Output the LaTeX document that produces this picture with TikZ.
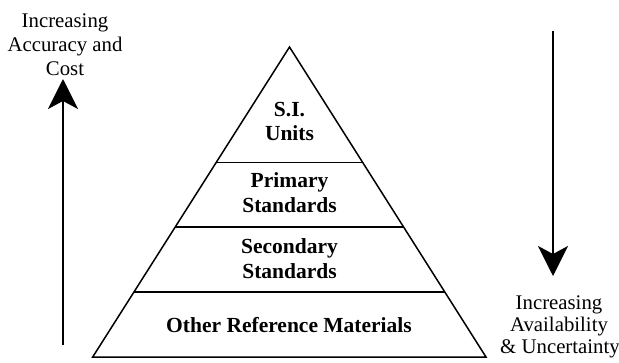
\documentclass[tikz,border=0pt]{standalone}
\usepackage{fontspec}
\setmainfont{Liberation Serif}
\usetikzlibrary{arrows.meta,calc}
\begin{document}
\begin{tikzpicture}[x=1pt,y=-1pt,
  txt/.style={anchor=base,inner sep=0pt,font=\fontsize{20.8}{24}\selectfont},
  btxt/.style={txt,font=\fontsize{21.5}{24}\selectfont\bfseries},
  pyr/.style={line width=1.5pt,line join=miter},
  divider/.style={line width=1.8pt},
  bigarrow/.style={line width=2pt,-{Stealth[length=30pt,width=30pt,inset=8pt]}}]
\useasboundingbox (0,0) rectangle (619,362);
% pyramid
\coordinate (apex) at (289.5,47);
\coordinate (bl) at (92.7,357);
\coordinate (br) at (486,357);
\draw[pyr] (apex) -- (bl) -- (br) -- cycle;
\coordinate (l1) at ($(apex)!0.3726!(bl)$);
\coordinate (r1) at ($(apex)!0.3726!(br)$);
\coordinate (l2) at ($(apex)!0.5806!(bl)$);
\coordinate (r2) at ($(apex)!0.5806!(br)$);
\coordinate (l3) at ($(apex)!0.790!(bl)$);
\coordinate (r3) at ($(apex)!0.790!(br)$);
\draw[divider] (l1) -- (r1);
\draw[divider] (l2) -- (r2);
\draw[divider] (l3) -- (r3);
% pyramid labels
\node[btxt] (si1) at (289.5,116.5) {S.I.};
\node[btxt] (si2) at (289.5,140.5) {Units};
\node[btxt] (pr1) at (289.5,187) {Primary};
\node[btxt] (pr2) at (289.5,212.5) {Standards};
\node[btxt] (se1) at (289.5,253.5) {Secondary};
\node[btxt] (se2) at (289.5,278.5) {Standards};
\node[btxt] (ot) at (289,332.5) {Other Reference Materials};
% left side
\node[txt] (la1) at (65,27) {Increasing};
\node[txt] (la2) at (65,51.5) {Accuracy and};
\node[txt] (la3) at (65,75.5) {Cost};
\coordinate (lbot) at (63,345);
\coordinate (ltop) at (63,79);
\draw[bigarrow] (lbot) -- (ltop);
% right side
\coordinate (rtop) at (553,31);
\coordinate (rbot) at (553,276);
\draw[bigarrow] (rtop) -- (rbot);
\node[txt] (ra1) at (559,309) {Increasing};
\node[txt] (ra2) at (559,331.5) {Availability};
\node[txt] (ra3) at (560,353.5) {\& Uncertainty};
\end{tikzpicture}
\end{document}
